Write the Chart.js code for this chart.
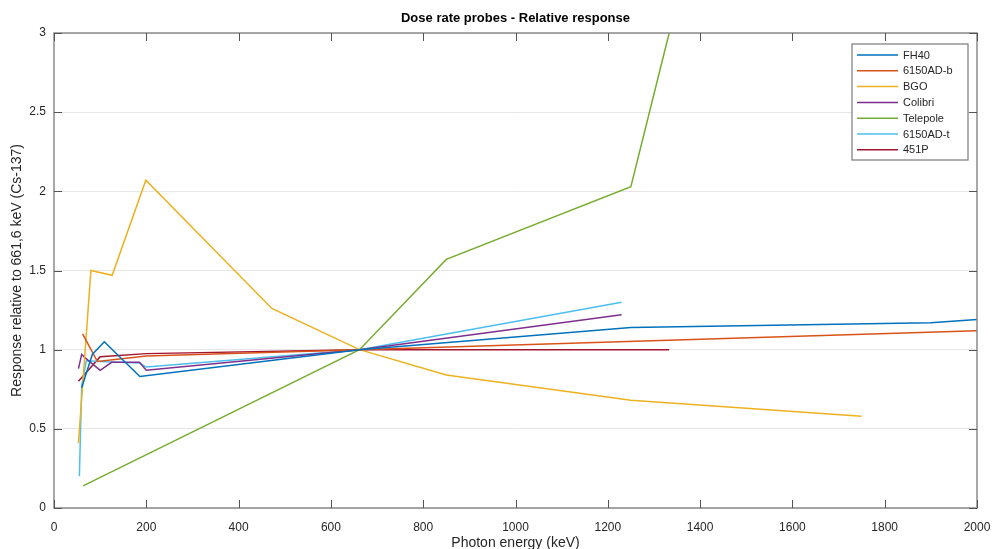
<!DOCTYPE html>
<html>
<head>
<meta charset="utf-8">
<script src="https://cdn.jsdelivr.net/npm/chart.js@4.4.1/dist/chart.umd.min.js"></script>
<style>
  html, body { margin: 0; padding: 0; background: #fff; overflow: hidden; }
  #wrap { width: 992px; height: 549px; }
</style>
</head>
<body>
<div id="wrap"><canvas id="chart" width="992" height="549"></canvas></div>
<script>
// photon energy (keV) / response relative to Cs-137
const fh40E = [60, 83, 109, 186, 662, 1250, 1900, 2000];
const fh40R = [0.76, 0.97, 1.05, 0.83, 1.0, 1.14, 1.17, 1.19];

const ad6150bE = [62, 94, 200, 662, 2000];
const ad6150bR = [1.10, 0.925, 0.96, 1.0, 1.12];

const bgoE = [53, 80, 126, 199, 472, 662, 850, 1250, 1750];
const bgoR = [0.41, 1.50, 1.47, 2.07, 1.26, 1.0, 0.84, 0.68, 0.58];

const colibriE = [53, 60, 67, 100, 125, 185, 200, 662, 1230];
const colibriR = [0.88, 0.97, 0.95, 0.87, 0.92, 0.92, 0.87, 1.0, 1.22];

const telepoleE = [63, 662, 850, 1250, 1333];
const telepoleR = [0.14, 1.0, 1.57, 2.03, 3.0];

const ad6150tE = [55, 60, 70, 100, 186, 200, 662, 1230];
const ad6150tR = [0.20, 0.77, 0.93, 0.925, 0.915, 0.89, 1.0, 1.30];

const p451E = [53, 100, 200, 662, 1333];
const p451R = [0.80, 0.955, 0.975, 1.0, 1.0];

const seriesNames = ['FH40', '6150AD-b', 'BGO', 'Colibri', 'Telepole', '6150AD-t', '451P'];
const seriesColors = ['#0072BD', '#D95319', '#EDB120', '#7E2F8E', '#77AC30', '#4DBEEE', '#A2142F'];
const seriesE = [fh40E, ad6150bE, bgoE, colibriE, telepoleE, ad6150tE, p451E];
const seriesR = [fh40R, ad6150bR, bgoR, colibriR, telepoleR, ad6150tR, p451R];

const xTicks = [0, 200, 400, 600, 800, 1000, 1200, 1400, 1600, 1800, 2000];
const yTicks = [0, 0.5, 1, 1.5, 2, 2.5, 3];

const FONT = '"Liberation Sans", Arial, Helvetica, sans-serif';
const TEXT = '#262626';
const AXIS = '#8a8a8a';

const datasets = seriesNames.map((name, i) => ({
  label: name,
  data: seriesE[i].map((e, j) => ({ x: e, y: seriesR[i][j] })),
  borderColor: seriesColors[i],
  backgroundColor: seriesColors[i],
  borderWidth: 1.5,
  pointRadius: 0,
  tension: 0,
  fill: false
}));

// box, inner ticks, title and legend in the matlab look
const matlabFrame = {
  id: 'matlabFrame',
  afterDatasetsDraw(chart) {
    const { ctx, chartArea: a, scales: { x, y } } = chart;
    ctx.save();
    ctx.strokeStyle = AXIS;
    ctx.lineWidth = 1.5;
    ctx.strokeRect(a.left, a.top, a.right - a.left, a.bottom - a.top);

    ctx.strokeStyle = '#555';
    ctx.lineWidth = 1;
    const tl = 8;
    xTicks.forEach(v => {
      const px = Math.round(x.getPixelForValue(v)) + 0.5;
      ctx.beginPath();
      ctx.moveTo(px, a.bottom); ctx.lineTo(px, a.bottom - tl);
      ctx.moveTo(px, a.top); ctx.lineTo(px, a.top + tl);
      ctx.stroke();
    });
    yTicks.forEach(v => {
      const py = Math.round(y.getPixelForValue(v)) + 0.5;
      ctx.beginPath();
      ctx.moveTo(a.left, py); ctx.lineTo(a.left + tl, py);
      ctx.moveTo(a.right, py); ctx.lineTo(a.right - tl, py);
      ctx.stroke();
    });

    // title
    ctx.fillStyle = '#000';
    ctx.font = 'bold 13px ' + FONT;
    ctx.textAlign = 'center';
    ctx.textBaseline = 'middle';
    ctx.fillText('Dose rate probes - Relative response', (a.left + a.right) / 2, 18);

    // legend box
    const lx = 852, ly = 44, lw = 116, lh = 116;
    ctx.fillStyle = '#fff';
    ctx.fillRect(lx, ly, lw, lh);
    ctx.strokeStyle = '#7a7a7a';
    ctx.lineWidth = 1.2;
    ctx.strokeRect(lx, ly, lw, lh);
    ctx.font = '11px ' + FONT;
    ctx.textAlign = 'left';
    chart.data.datasets.forEach((ds, i) => {
      const ry = ly + 11 + i * 15.8;
      ctx.strokeStyle = ds.borderColor;
      ctx.lineWidth = 1.5;
      ctx.beginPath();
      ctx.moveTo(lx + 5, ry); ctx.lineTo(lx + 46, ry);
      ctx.stroke();
      ctx.fillStyle = TEXT;
      ctx.fillText(ds.label, lx + 51, ry + 0.5);
    });
    ctx.restore();
  }
};

new Chart(document.getElementById('chart'), {
  type: 'line',
  data: { datasets },
  options: {
    responsive: false,
    animation: false,
    layout: { padding: { top: 33, right: 15, left: 0, bottom: 0 } },
    plugins: {
      legend: { display: false },
      title: { display: false },
      tooltip: { enabled: false }
    },
    scales: {
      x: {
        type: 'linear',
        min: 0,
        max: 2000,
        afterFit: s => { s.height = 41; s.paddingLeft = 0; s.paddingRight = 0; },
        afterBuildTicks: s => { s.ticks = xTicks.map(v => ({ value: v })); },
        grid: { display: false, drawTicks: false },
        border: { display: false },
        ticks: {
          padding: 12,
          color: TEXT,
          font: { family: FONT, size: 12 },
          maxRotation: 0,
          callback: v => String(v)
        },
        title: {
          display: true,
          text: 'Photon energy (keV)',
          color: TEXT,
          font: { family: FONT, size: 14, lineHeight: 1 },
          padding: { top: 0, bottom: -1 }
        }
      },
      y: {
        min: 0,
        max: 3,
        afterFit: s => { s.width = 54; s.paddingTop = 0; s.paddingBottom = 0; },
        afterBuildTicks: s => { s.ticks = yTicks.map(v => ({ value: v })); },
        grid: { color: '#e6e6e6', lineWidth: 1, drawTicks: false },
        border: { display: false },
        ticks: {
          padding: 8,
          color: TEXT,
          font: { family: FONT, size: 12 },
          callback: v => String(v)
        },
        title: {
          display: true,
          text: 'Response relative to 661,6 keV (Cs-137)',
          color: TEXT,
          font: { family: FONT, size: 14, lineHeight: 1.2 },
          padding: { top: 9, bottom: 0 }
        }
      }
    }
  },
  plugins: [matlabFrame]
});
</script>
</body>
</html>
